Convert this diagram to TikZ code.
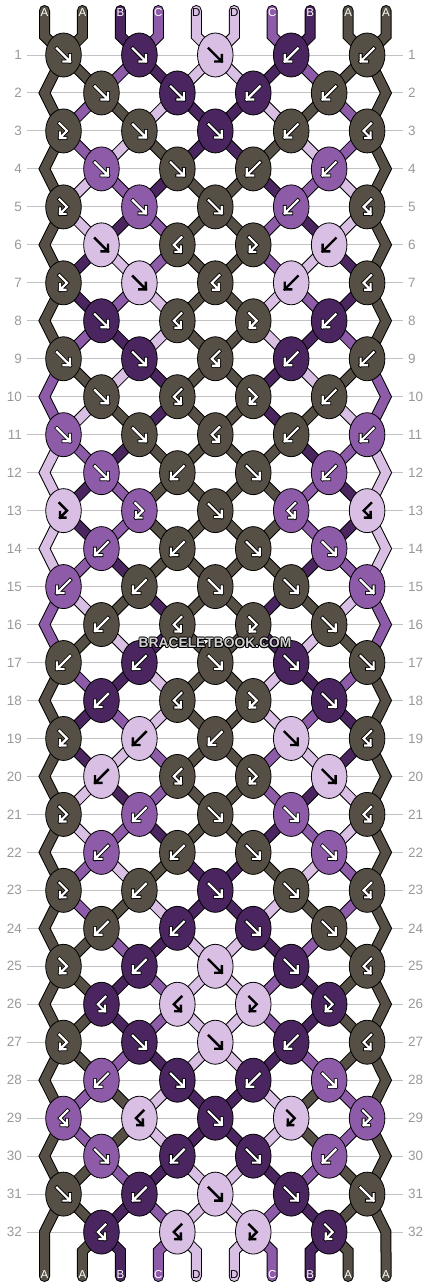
\documentclass[tikz,border=0pt]{standalone}
\usepackage{fontspec}
\setmainfont{Liberation Sans}
\usetikzlibrary{shapes.geometric}

\definecolor{cA}{HTML}{564F45}
\definecolor{cB}{HTML}{4A2560}
\definecolor{cC}{HTML}{8E5BA8}
\definecolor{cD}{HTML}{D8BFE3}
\definecolor{rulegray}{HTML}{C2C2C2}
\definecolor{numgray}{HTML}{9A9A9A}
\definecolor{wmgray}{HTML}{D2D2D2}

\pgfdeclarelayer{strands}
\pgfsetlayers{strands,main}

\tikzset{
  knot/.style={ellipse, draw=black, line width=0.8pt, minimum width=35.6pt, minimum height=44pt, inner sep=0pt},
  strand/.style={draw=black, line width=1pt, double=#1, double distance=9pt, line join=miter},
  rowline/.style={draw=rulegray, line width=1pt},
  rownum/.style={text=numgray, inner sep=0pt, font=\fontsize{13.5}{13.5}\selectfont},
  tagA/.style={text=white, inner sep=0pt, font=\fontsize{11.5}{11.5}\selectfont},
  tagB/.style={tagA},
  tagC/.style={tagA},
  tagD/.style={tagA, text=black},
  wmtext/.style={inner sep=0pt, font=\fontsize{13.8}{13.8}\selectfont\bfseries},
  inkA/.style={glyph under/.style={black, line width=3.8pt, line cap=rect, line join=miter},
               glyph over/.style={white, line width=2.2pt, line cap=rect, line join=miter}},
  inkB/.style={inkA},
  inkC/.style={inkA},
  inkD/.style={glyph under/.style={draw=none},
               glyph over/.style={black, line width=2.4pt, line cap=rect, line join=miter}},
  pics/knotf/.style={code={
    \draw[glyph under] (-6.5,-6.5) -- (6.5,6.5) (0,6.5) -- (6.5,6.5) -- (6.5,0);
    \draw[glyph over] (-6.5,-6.5) -- (6.5,6.5) (0,6.5) -- (6.5,6.5) -- (6.5,0);
  }},
  pics/knotb/.style={code={
    \draw[glyph under] (6.5,-6.5) -- (-6.5,6.5) (0,6.5) -- (-6.5,6.5) -- (-6.5,0);
    \draw[glyph over] (6.5,-6.5) -- (-6.5,6.5) (0,6.5) -- (-6.5,6.5) -- (-6.5,0);
  }},
  pics/knotfb/.style={code={
    \draw[glyph under] (-4,-7.5) -- (3.5,0) -- (-3.5,7) (2,7) -- (-3.5,7) -- (-3.5,1.5);
    \draw[glyph over] (-4,-7.5) -- (3.5,0) -- (-3.5,7) (2,7) -- (-3.5,7) -- (-3.5,1.5);
  }},
  pics/knotbf/.style={code={
    \draw[glyph under] (4,-7.5) -- (-3.5,0) -- (3.5,7) (-2,7) -- (3.5,7) -- (3.5,1.5);
    \draw[glyph over] (4,-7.5) -- (-3.5,0) -- (3.5,7) (-2,7) -- (3.5,7) -- (3.5,1.5);
  }},
}

\begin{document}
\begin{tikzpicture}[x=1pt, y=-1pt]
\useasboundingbox (0,0) rectangle (430,1288);

\foreach \r in {1,...,32} {
  \pgfmathsetmacro\ky{55+(\r-1)*37.97}
  \node[rownum, anchor=east] (nl\r) at (22,\ky) {\r};
  \node[rownum, anchor=west] (nr\r) at (408,\ky) {\r};
}

% knots: type/colour per row
\foreach \r/\knots in {
  1/{f/A,f/B,f/D,b/B,b/A},
  2/{f/A,f/B,b/B,b/A},
  3/{fb/A,f/A,f/B,b/A,bf/A},
  4/{f/C,f/A,b/A,b/C},
  5/{fb/A,f/C,f/A,b/C,bf/A},
  6/{f/D,bf/A,fb/A,b/D},
  7/{fb/A,f/D,bf/A,b/D,bf/A},
  8/{f/B,bf/A,fb/A,b/B},
  9/{f/A,f/B,bf/A,b/B,b/A},
  10/{f/A,bf/A,fb/A,b/A},
  11/{f/C,f/A,bf/A,b/A,b/C},
  12/{f/C,b/A,f/A,b/C},
  13/{fb/D,fb/C,f/A,bf/C,bf/D},
  14/{b/C,b/A,f/A,f/C},
  15/{b/C,b/A,f/A,f/A,f/C},
  16/{b/A,bf/A,fb/A,f/A},
  17/{b/A,b/B,f/A,f/B,f/A},
  18/{b/B,bf/A,fb/A,f/B},
  19/{fb/A,b/D,b/A,f/D,bf/A},
  20/{b/D,bf/A,fb/A,f/D},
  21/{fb/A,b/C,f/A,f/C,bf/A},
  22/{b/C,b/A,f/A,f/C},
  23/{fb/A,b/A,f/B,f/A,bf/A},
  24/{b/A,b/B,f/B,f/A},
  25/{fb/A,b/B,f/D,f/B,bf/A},
  26/{bf/B,bf/D,fb/D,fb/B},
  27/{fb/A,f/B,f/D,b/B,bf/A},
  28/{b/C,f/B,b/B,f/C},
  29/{bf/C,bf/D,f/B,fb/D,fb/C},
  30/{f/C,b/B,f/B,b/C},
  31/{f/A,b/B,f/D,f/B,f/A},
  32/{bf/B,bf/D,fb/D,fb/B}} {
  \pgfmathtruncatemacro\odd{mod(\r,2)}
  \pgfmathsetmacro\ky{55+(\r-1)*37.97}
  \ifnum\odd=0
    \coordinate (eL\r) at (44.5,\ky);
    \coordinate (eR\r) at (385.95,\ky);
  \fi
  \foreach \t/\c [count=\j] in \knots {
    \pgfmathsetmacro\kx{63.5+(2*\j-1-\odd)*37.95}
    \node[knot, fill=c\c] (k\r-\j) at (\kx,\ky) {};
    \pic[ink\c] at (k\r-\j) {knot\t};
  }
}

\foreach \c [count=\i from 0] in {A,A,B,C,D,D,C,B,A,A} {
  \pgfmathsetmacro\sx{44.5+\i*37.95}
  \coordinate (top\i) at (\sx,10.5);
  \coordinate (bot\i) at (\sx,1276.5);
  \node[tag\c] (ttop\i) at (\sx,13) {\c};
  \node[tag\c] (tbot\i) at (\sx,1274.5) {\c};
}

\foreach \dx/\dy [count=\w] in {-0.8/0,0.8/0,0/-0.8,0/0.8,-0.6/-0.6,0.6/0.6,-0.6/0.6,0.6/-0.6}
  \node[wmtext, text=black] (wmo\w) at (215+\dx,643+\dy) {BRACELETBOOK.COM};
\node[wmtext, text=wmgray] (wm) at (215,643) {BRACELETBOOK.COM};

\begin{pgfonlayer}{strands}
  \fill[white] (0,0) rectangle (430,1288);
  \foreach \r in {1,...,32}
    \draw[rowline] ([xshift=5pt]nl\r.east) -- ([xshift=-5pt]nr\r.west);

  \foreach \c [count=\i from 0] in {A,A,B,C,D,D,C,B,A,A} {
    \pgfmathtruncatemacro\jo{floor(\i/2)+1}
    \draw[strand=c\c, line cap=round] (top\i) -- ++(0,25.5) -- (k1-\jo.center);
  }

  % strings leaving each row
  \foreach \r/\s in {
    1/{A,A,C,B,D,D,B,C,A,A},
    2/{A,C,A,D,B,B,D,A,C,A},
    3/{A,C,D,A,B,B,A,D,C,A},
    4/{A,D,C,B,A,A,B,C,D,A},
    5/{A,D,B,C,A,A,C,B,D,A},
    6/{A,B,D,C,A,A,C,D,B,A},
    7/{A,B,C,D,A,A,D,C,B,A},
    8/{A,C,B,D,A,A,D,B,C,A},
    9/{C,A,D,B,A,A,B,D,A,C},
    10/{C,D,A,B,A,A,B,A,D,C},
    11/{D,C,B,A,A,A,A,B,C,D},
    12/{D,B,C,A,A,A,A,C,B,D},
    13/{D,B,C,A,A,A,A,C,B,D},
    14/{D,C,B,A,A,A,A,B,C,D},
    15/{C,D,A,B,A,A,B,A,D,C},
    16/{C,A,D,B,A,A,B,D,A,C},
    17/{A,C,B,D,A,A,D,B,C,A},
    18/{A,B,C,D,A,A,D,C,B,A},
    19/{A,B,D,C,A,A,C,D,B,A},
    20/{A,D,B,C,A,A,C,B,D,A},
    21/{A,D,C,B,A,A,B,C,D,A},
    22/{A,C,D,A,B,B,A,D,C,A},
    23/{A,C,A,D,B,B,D,A,C,A},
    24/{A,A,C,B,D,D,B,C,A,A},
    25/{A,A,B,C,D,D,C,B,A,A},
    26/{A,A,B,C,D,D,C,B,A,A},
    27/{A,A,C,B,D,D,B,C,A,A},
    28/{A,C,A,D,B,B,D,A,C,A},
    29/{A,C,A,D,B,B,D,A,C,A},
    30/{A,A,C,B,D,D,B,C,A,A},
    31/{A,A,B,C,D,D,C,B,A,A}} {
    \pgfmathtruncatemacro\odd{mod(\r,2)}
    \pgfmathtruncatemacro\rp{\r-1}
    \pgfmathtruncatemacro\rn{\r+1}
    \foreach \c [count=\i from 0] in \s {
      \pgfmathtruncatemacro\jo{floor(\i/2)+1}
      \pgfmathtruncatemacro\me{ceil(\i/2)}
      \ifnum\i=0
        \ifnum\odd=0 \draw[strand=c\c] (k\rp-1.center) -- (eL\r) -- (k\rn-1.center); \fi
      \else\ifnum\i=9
        \ifnum\odd=0 \draw[strand=c\c] (k\rp-5.center) -- (eR\r) -- (k\rn-5.center); \fi
      \else
        \ifnum\odd=1
          \draw[strand=c\c] (k\r-\jo.center) -- (k\rn-\me.center);
        \else
          \draw[strand=c\c] (k\r-\me.center) -- (k\rn-\jo.center);
        \fi
      \fi\fi
    }
  }

  \foreach \c [count=\i from 0] in {A,A,B,C,D,D,C,B,A,A} {
    \pgfmathtruncatemacro\me{ceil(\i/2)}
    \ifnum\i=0
      \draw[strand=c\c, line cap=round] (bot0) -- (eL32) -- (k31-1.center);
    \else\ifnum\i=9
      \draw[strand=c\c, line cap=round] (bot9) -- (eR32) -- (k31-5.center);
    \else
      \draw[strand=c\c, line cap=round] (bot\i) -- ++(0,-25.4) -- (k32-\me.center);
    \fi\fi
  }
\end{pgfonlayer}
\end{tikzpicture}
\end{document}
